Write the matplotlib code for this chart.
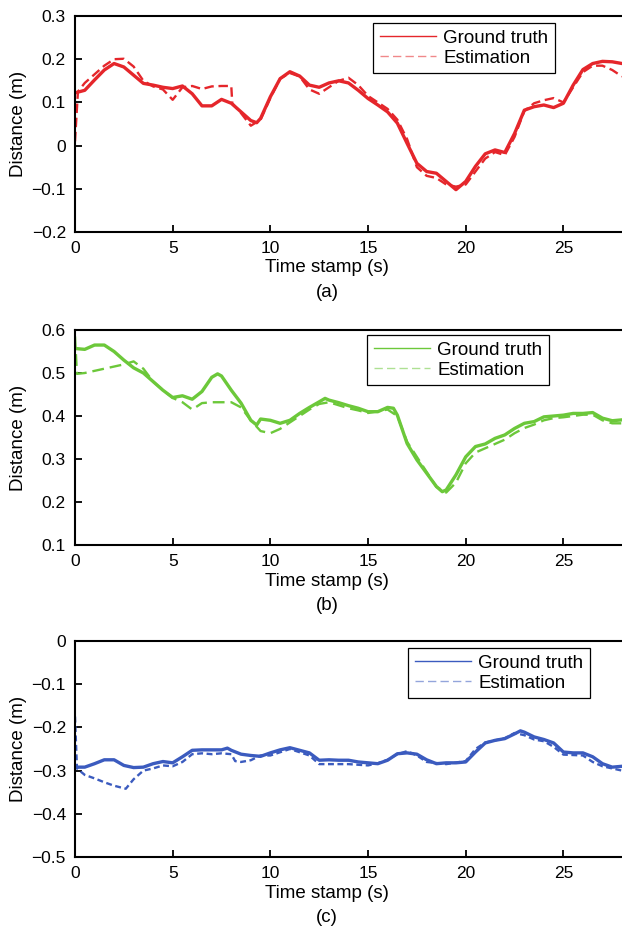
import matplotlib
matplotlib.use("Agg")
from matplotlib import pyplot as plt
from matplotlib.lines import Line2D

# ---- datos (a) rojo ----
t_a_gt = [0, 0.5, 1, 1.5, 2, 2.5, 3, 3.5, 4, 4.5, 5, 5.5, 6, 6.5, 7, 7.5, 8, 8.5, 9, 9.3, 9.5,
          10, 10.5, 11, 11.5, 12, 12.5, 13, 13.5, 14, 14.5, 15, 15.5, 16, 16.5, 17, 17.5, 18,
          18.5, 19, 19.5, 20, 20.5, 21, 21.5, 22, 22.5, 23, 23.5, 24, 24.5, 25, 25.5, 26, 26.5,
          27, 27.5, 28]
a_gt = [0.122, 0.128, 0.152, 0.175, 0.19, 0.182, 0.163, 0.144, 0.14, 0.135, 0.132, 0.138, 0.12,
        0.092, 0.092, 0.107, 0.098, 0.078, 0.058, 0.053, 0.063, 0.113, 0.155, 0.171, 0.161, 0.14,
        0.135, 0.145, 0.15, 0.145, 0.128, 0.109, 0.094, 0.078, 0.052, 0.005, -0.041, -0.06,
        -0.064, -0.083, -0.102, -0.083, -0.048, -0.019, -0.01, -0.016, 0.028, 0.082, 0.09,
        0.094, 0.088, 0.098, 0.14, 0.176, 0.19, 0.195, 0.194, 0.19]

t_a_est = [0, 0.15, 0.5, 1, 1.5, 2, 2.5, 3, 3.5, 4, 4.5, 5, 5.5, 6, 6.5, 7, 7.5, 8, 8.05, 8.5, 9,
           9.5, 10, 10.5, 11, 11.5, 12, 12.5, 13, 13.5, 14, 14.5, 15, 16, 16.5, 17, 17.5, 18,
           18.5, 19, 19.5, 20, 20.5, 21, 21.5, 22, 22.5, 23, 23.5, 24, 24.5, 25, 25.5, 26, 26.5,
           27, 27.5, 28]
a_est = [0.01, 0.125, 0.145, 0.165, 0.185, 0.2, 0.201, 0.183, 0.15, 0.137, 0.13, 0.106, 0.135,
         0.138, 0.131, 0.137, 0.138, 0.138, 0.098, 0.075, 0.046, 0.06, 0.11, 0.155, 0.168, 0.16,
         0.13, 0.12, 0.135, 0.15, 0.157, 0.14, 0.115, 0.085, 0.06, 0.015, -0.05, -0.07, -0.075,
         -0.09, -0.095, -0.09, -0.06, -0.03, -0.015, -0.022, 0.02, 0.08, 0.098, 0.105, 0.11,
         0.1, 0.135, 0.17, 0.185, 0.185, 0.175, 0.16]

# ---- datos (b) verde ----
t_b_gt = [0, 0.5, 1, 1.5, 2, 2.5, 3, 3.5, 4, 4.5, 5, 5.5, 6, 6.5, 7, 7.3, 7.5, 8, 8.5, 9, 9.3,
          9.5, 10, 10.5, 11, 11.5, 12, 12.5, 12.8, 13, 13.5, 14, 14.5, 15, 15.5, 16, 16.3, 16.5,
          17, 17.5, 18, 18.5, 18.8, 19, 19.5, 20, 20.5, 21, 21.5, 22, 22.5, 23, 23.5, 24, 24.5,
          25, 25.5, 26, 26.5, 27, 27.5, 28]
b_gt = [0.557, 0.555, 0.565, 0.565, 0.55, 0.53, 0.512, 0.5, 0.48, 0.46, 0.443, 0.447, 0.439,
        0.457, 0.49, 0.498, 0.493, 0.46, 0.43, 0.39, 0.379, 0.393, 0.39, 0.383, 0.39, 0.406,
        0.42, 0.433, 0.441, 0.437, 0.431, 0.424, 0.418, 0.41, 0.41, 0.42, 0.418, 0.402, 0.336,
        0.298, 0.267, 0.236, 0.224, 0.228, 0.263, 0.305, 0.329, 0.335, 0.348, 0.356, 0.371,
        0.383, 0.387, 0.398, 0.4, 0.402, 0.406, 0.406, 0.408, 0.395, 0.389, 0.391]

t_b_est = [0, 0.1, 0.5, 1, 1.5, 2, 2.5, 3, 3.5, 4, 4.5, 5, 5.5, 6, 6.5, 7, 7.5, 8, 8.5, 9, 9.5,
           10, 10.5, 11, 11.5, 12, 12.5, 13, 13.5, 14, 14.5, 15, 16, 16.5, 17, 18, 18.5, 19,
           19.5, 20, 20.5, 21, 22, 22.5, 23, 23.5, 24, 24.5, 25, 26, 26.5, 27, 27.5, 28]
b_est = [0.585, 0.498, 0.5, 0.505, 0.51, 0.515, 0.52, 0.527, 0.51, 0.48, 0.46, 0.442, 0.432,
         0.415, 0.43, 0.432, 0.432, 0.432, 0.42, 0.39, 0.365, 0.36, 0.37, 0.385, 0.4, 0.415,
         0.428, 0.432, 0.425, 0.418, 0.413, 0.407, 0.415, 0.4, 0.34, 0.27, 0.235, 0.222, 0.245,
         0.29, 0.315, 0.325, 0.345, 0.36, 0.372, 0.38, 0.39, 0.395, 0.397, 0.403, 0.403, 0.39,
         0.383, 0.383]

# ---- datos (c) azul ----
t_c_gt = [0, 0.5, 1, 1.5, 2, 2.5, 3, 3.5, 4, 4.5, 5, 5.5, 6, 6.5, 7, 7.5, 7.8, 8, 8.5, 9, 9.5,
          10, 10.5, 11, 11.5, 12, 12.5, 13, 13.5, 14, 14.5, 15, 15.5, 16, 16.5, 17, 17.5, 18,
          18.5, 19, 19.5, 20, 20.5, 21, 21.5, 22, 22.5, 22.8, 23, 23.5, 24, 24.5, 25, 25.5, 26,
          26.5, 27, 27.5, 28]
c_gt = [-0.292, -0.292, -0.284, -0.275, -0.275, -0.288, -0.293, -0.292, -0.284, -0.279, -0.282,
        -0.268, -0.253, -0.252, -0.252, -0.252, -0.248, -0.253, -0.262, -0.265, -0.267, -0.259,
        -0.252, -0.247, -0.253, -0.259, -0.276, -0.275, -0.276, -0.276, -0.28, -0.282, -0.284,
        -0.276, -0.261, -0.259, -0.262, -0.275, -0.284, -0.282, -0.282, -0.28, -0.257, -0.236,
        -0.23, -0.226, -0.215, -0.208, -0.211, -0.222, -0.228, -0.236, -0.257, -0.259, -0.259,
        -0.268, -0.284, -0.292, -0.29]

t_c_est = [0, 0.1, 0.5, 1, 1.5, 2, 2.6, 3, 3.5, 4, 4.5, 5, 5.5, 6, 6.5, 7, 7.5, 8, 8.2, 8.5, 9,
           9.5, 10, 11, 12, 12.5, 13, 14, 15, 15.5, 16, 16.5, 17, 17.5, 18, 19, 20, 20.5, 21,
           22, 22.5, 23, 23.5, 24, 24.5, 25, 26, 26.5, 27, 28]
c_est = [-0.175, -0.295, -0.31, -0.318, -0.327, -0.335, -0.342, -0.32, -0.3, -0.295, -0.288,
         -0.29, -0.28, -0.262, -0.26, -0.262, -0.26, -0.262, -0.278, -0.28, -0.276, -0.265,
         -0.265, -0.25, -0.265, -0.285, -0.285, -0.285, -0.288, -0.283, -0.275, -0.262, -0.255,
         -0.265, -0.28, -0.285, -0.278, -0.25, -0.235, -0.225, -0.213, -0.218, -0.228, -0.232,
         -0.245, -0.263, -0.265, -0.28, -0.29, -0.3]

paneles = [
    dict(tg=t_a_gt, g=a_gt, te=t_a_est, e=a_est, col="#e5262b", ylim=(-0.2, 0.3),
         yt=[-0.2, -0.1, 0, 0.1, 0.2, 0.3], yl=["\u22120.2", "\u22120.1", "0", "0.1", "0.2", "0.3"],
         top=16, bot=232, leg=(0.545, 0.967), dash=(4, 2), lab="(a)"),
    dict(tg=t_b_gt, g=b_gt, te=t_b_est, e=b_est, col="#6cc83a", ylim=(0.1, 0.6),
         yt=[0.1, 0.2, 0.3, 0.4, 0.5, 0.6], yl=["0.1", "0.2", "0.3", "0.4", "0.5", "0.6"],
         top=330, bot=545, leg=(0.534, 0.977), dash=(5, 2.5), lab="(b)"),
    dict(tg=t_c_gt, g=c_gt, te=t_c_est, e=c_est, col="#3b5bbf", ylim=(-0.5, 0),
         yt=[-0.5, -0.4, -0.3, -0.2, -0.1, 0],
         yl=["\u22120.5", "\u22120.4", "\u22120.3", "\u22120.2", "\u22120.1", "0"],
         top=641, bot=857, leg=(0.609, 0.968), dash=(2.5, 1.5), lab="(c)"),
]

W, H = 622.0, 926.0
fig = plt.figure(figsize=(6.22, 9.26), dpi=100)
plt.rcParams["font.family"] = ["Liberation Sans", "DejaVu Sans"]

for p in paneles:
    alto = p["bot"] - p["top"]
    ax = fig.add_axes([75 / W, 1 - p["bot"] / H, 547 / W, alto / H])
    ax.plot(p["tg"], p["g"], color=p["col"], lw=2.4, solid_joinstyle="round", solid_capstyle="round")
    ax.plot(p["te"], p["e"], color=p["col"], lw=1.7, dashes=p["dash"])
    ax.set_xlim(0, 28)
    ax.set_ylim(*p["ylim"])
    ax.set_xticks([0, 5, 10, 15, 20, 25])
    ax.set_xticklabels(["0", "5", "10", "15", "20", "25"])
    ax.set_yticks(p["yt"])
    ax.set_yticklabels(p["yl"])
    ax.tick_params(direction="in", length=5, width=1.3, labelsize=12.5)
    ax.tick_params(axis="y", pad=6.5)
    ax.tick_params(axis="x", pad=6.5)
    for s in ["left", "bottom", "top"]:
        ax.spines[s].set_linewidth(1.5)
    ax.spines["right"].set_visible(False)
    ax.set_xlabel("Time stamp (s)", fontsize=13.5, va="center")
    ax.xaxis.set_label_coords(252 / 547, -36 / alto)
    ax.set_ylabel("Distance (m)", fontsize=13.5, va="center")
    ax.yaxis.set_label_coords(-56.5 / 547, 0.5)
    h1 = Line2D([], [], color=p["col"], lw=1.0)
    h2 = Line2D([], [], color=p["col"], lw=1.0, alpha=0.55, dashes=(6, 3))
    lg = ax.legend([h1, h2], ["Ground truth", "Estimation"], loc="upper left",
                   bbox_to_anchor=p["leg"], borderaxespad=0, fontsize=13.5, handlelength=3.0,
                   fancybox=False, framealpha=1, edgecolor="black", borderpad=0.35,
                   labelspacing=0.15, handletextpad=0.4)
    lg.get_frame().set_linewidth(0.9)
    fig.text(327 / W, 1 - (p["bot"] + 61) / H, p["lab"], ha="center", va="center", fontsize=13.5)

fig.savefig("out.png", dpi=100)
